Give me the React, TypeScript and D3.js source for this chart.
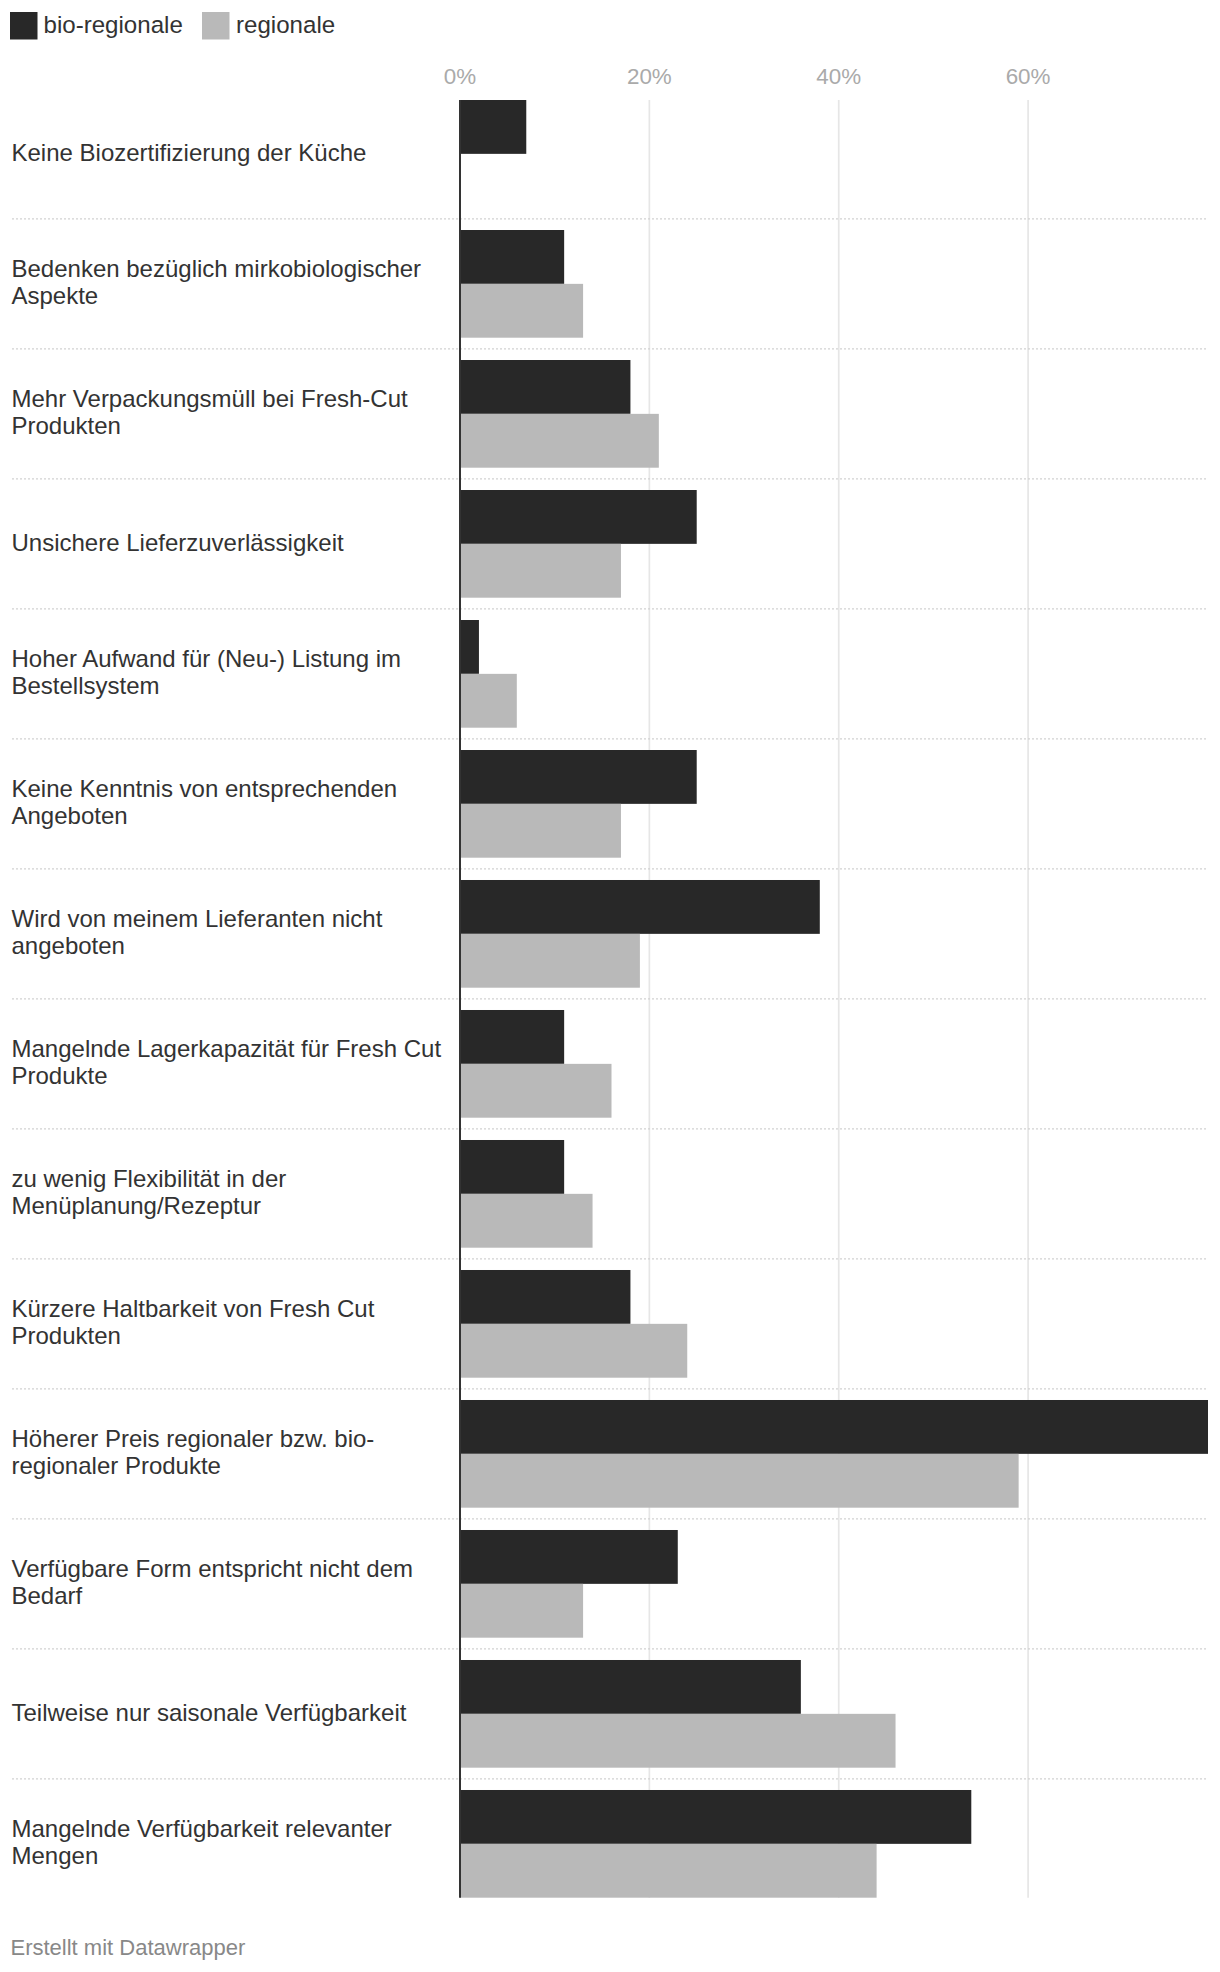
import React from 'react';
import * as d3 from 'd3';

// Gründe gegen den Einsatz (Anteil der Nennungen in %)
const categories = [
    'Keine Biozertifizierung der Küche',
    'Bedenken bezüglich mirkobiologischer\nAspekte',
    'Mehr Verpackungsmüll bei Fresh-Cut\nProdukten',
    'Unsichere Lieferzuverlässigkeit',
    'Hoher Aufwand für (Neu-) Listung im\nBestellsystem',
    'Keine Kenntnis von entsprechenden\nAngeboten',
    'Wird von meinem Lieferanten nicht\nangeboten',
    'Mangelnde Lagerkapazität für Fresh Cut\nProdukte',
    'zu wenig Flexibilität in der\nMenüplanung/Rezeptur',
    'Kürzere Haltbarkeit von Fresh Cut\nProdukten',
    'Höherer Preis regionaler bzw. bio-\nregionaler Produkte',
    'Verfügbare Form entspricht nicht dem\nBedarf',
    'Teilweise nur saisonale Verfügbarkeit',
    'Mangelnde Verfügbarkeit relevanter\nMengen',
];

const bioRegionale = [7, 11, 18, 25, 2, 25, 38, 11, 11, 18, 79, 23, 36, 54];
const regionale = [0, 13, 21, 17, 6, 17, 19, 16, 14, 24, 59, 13, 46, 44];

const seriesNames = ['bio-regionale', 'regionale'];
const seriesColors = ['#282828', '#b9b9b9'];
const tickValues = [0, 20, 40, 60];

const WIDTH = 1220;
const HEIGHT = 1972;
const FONT = '"Liberation Sans", Arial, Helvetica, sans-serif';

export default function App() {
    const plotLeft = 460;
    const plotRight = 1208;
    const plotTop = 100;
    const plotBottom = 1897.7;

    const x = d3.scaleLinear()
        .domain([0, d3.max(bioRegionale.concat(regionale)) as number])
        .range([plotLeft, plotRight]);

    const y = d3.scaleBand<string>()
        .domain(categories)
        .range([plotTop, plotBottom])
        .paddingInner(0.1715)
        .paddingOuter(0);

    const ySeries = d3.scaleBand<string>()
        .domain(seriesNames)
        .range([0, y.bandwidth()]);

    const gap = y.step() - y.bandwidth();
    const lineHeight = 27.4;

    const rows = categories.map((c, i) => ({
        label: c,
        values: [bioRegionale[i], regionale[i]],
    }));

    return (
        <svg
            width={WIDTH}
            height={HEIGHT}
            style={{ position: 'absolute', left: 0, top: 0, background: '#fff' }}
            fontFamily={FONT}
        >
            {/* legend */}
            <g>
                <rect x={10} y={12} width={27.5} height={27.5} fill={seriesColors[0]} />
                <text x={43.5} y={32.5} fontSize={24.1} fill="#333">{seriesNames[0]}</text>
                <rect x={202} y={12} width={27.5} height={27.5} fill={seriesColors[1]} />
                <text x={236} y={32.5} fontSize={24.1} fill="#333">{seriesNames[1]}</text>
            </g>

            {/* x axis labels + grid */}
            {tickValues.map(t => (
                <g key={t}>
                    <text x={x(t)} y={84.3} fontSize={22.4} fill="#aaaaaa" textAnchor="middle">{t}%</text>
                    {t !== 0 && (
                        <line x1={x(t)} x2={x(t)} y1={plotTop} y2={plotBottom} stroke="#e6e6e6" strokeWidth={1.7} />
                    )}
                </g>
            ))}

            {/* row separators */}
            {categories.slice(0, -1).map(c => {
                const yy = (y(c) as number) + y.bandwidth() + gap / 2;
                return (
                    <line key={'sep' + c} x1={12} x2={plotRight} y1={yy} y2={yy}
                        stroke="#d2d2d2" strokeWidth={1.4} strokeDasharray="2,2" />
                );
            })}

            {/* labels + bars */}
            {rows.map(r => {
                const top = y(r.label) as number;
                const center = top + y.bandwidth() / 2;
                const lines = r.label.split('\n');
                const first = center + 7 - (lines.length - 1) * 14.2;
                return (
                    <g key={r.label}>
                        <text x={11.5} fontSize={24} fill="#333">
                            {lines.map((l, j) => (
                                <tspan key={j} x={11.5} y={first + j * lineHeight}>{l}</tspan>
                            ))}
                        </text>
                        {r.values.map((v, k) => (
                            <rect key={k}
                                x={x(0)}
                                y={top + (ySeries(seriesNames[k]) as number)}
                                width={x(v) - x(0)}
                                height={ySeries.bandwidth()}
                                fill={seriesColors[k]} />
                        ))}
                    </g>
                );
            })}

            {/* zero line */}
            <line x1={x(0)} x2={x(0)} y1={plotTop} y2={plotBottom} stroke="#333" strokeWidth={2} />

            <text x={10.5} y={1955} fontSize={22} fill="#888">Erstellt mit Datawrapper</text>
        </svg>
    );
}
